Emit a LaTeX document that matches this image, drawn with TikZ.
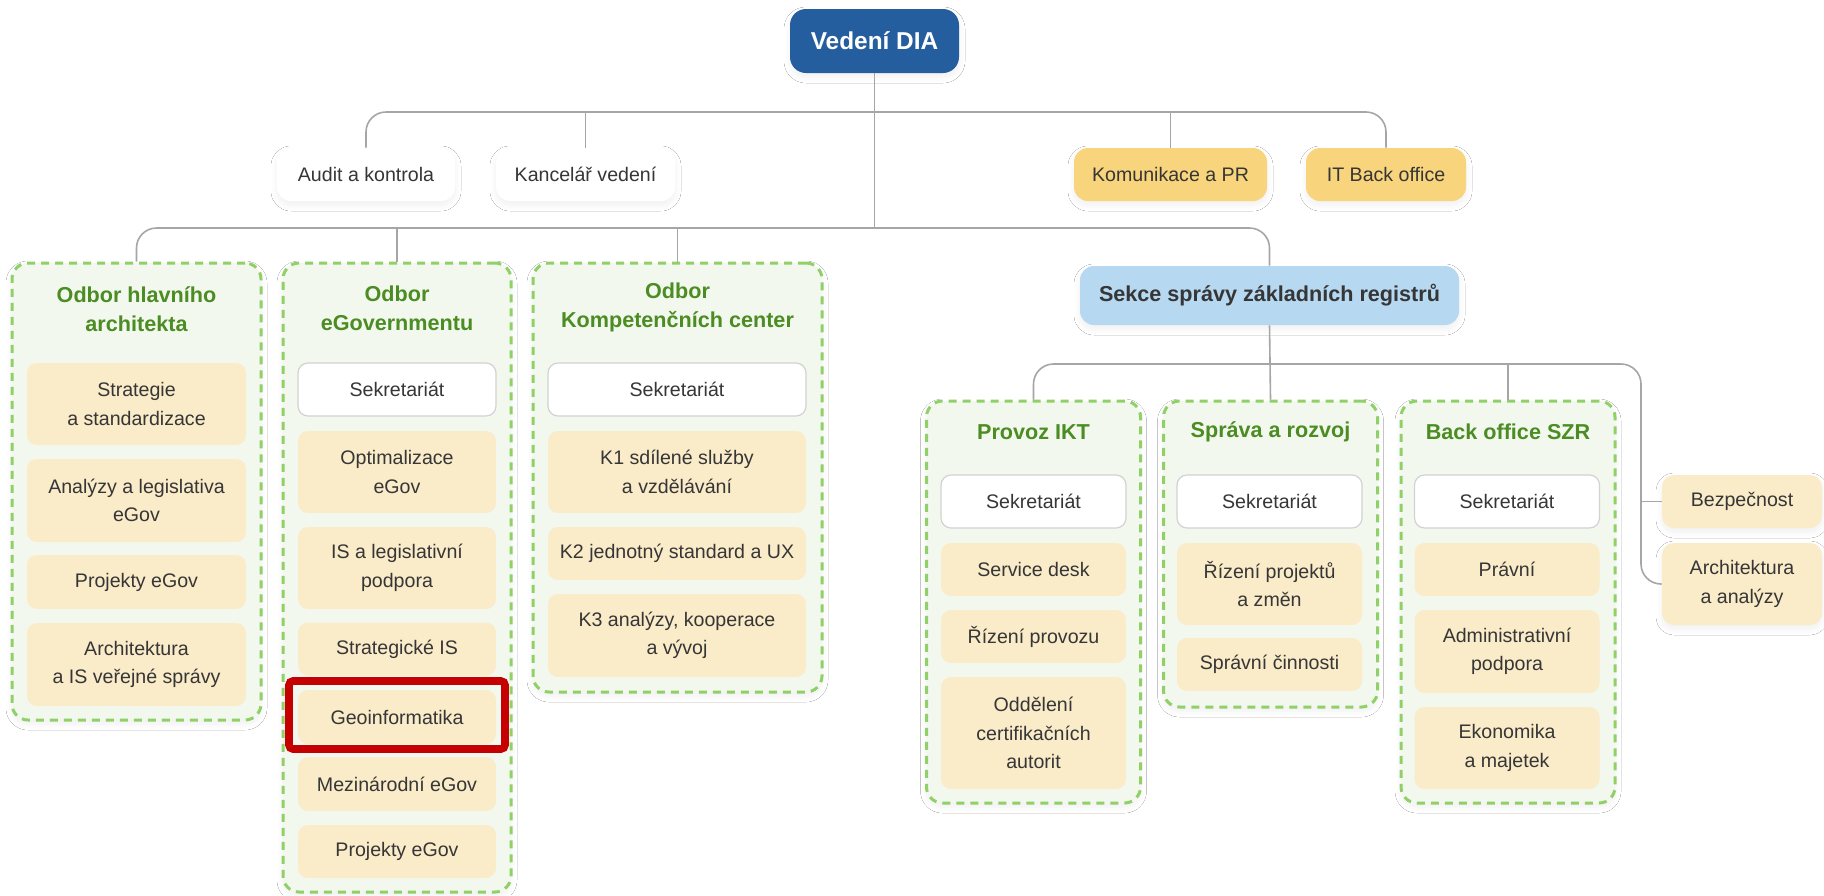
\documentclass[tikz,border=0pt]{standalone}
\usepackage{fontspec}
\setmainfont{Liberation Sans}
\usetikzlibrary{shadows.blur}
\definecolor{dia}{HTML}{245E9F}
\definecolor{yel}{HTML}{F8D47C}
\definecolor{lblue}{HTML}{B6D8F1}
\definecolor{beige}{HTML}{FAEBC9}
\definecolor{gfill}{HTML}{F3F8EE}
\definecolor{gborder}{HTML}{8FD067}
\definecolor{gtitle}{HTML}{4B8C23}
\definecolor{txt}{HTML}{363636}
\definecolor{linec}{HTML}{A6A6A6}
\definecolor{hl}{HTML}{C40000}
\definecolor{sekb}{HTML}{D2D2D2}
\tikzset{
  softshadow/.style={blur shadow={shadow blur steps=10, shadow xshift=0pt, shadow yshift=-2pt, shadow blur radius=3pt, shadow opacity=6}},
  base/.style={inner sep=0pt, align=center, text=txt, font=\fontsize{9.8}{14.3}\selectfont},
  topbox/.style={base, rounded corners=7pt, softshadow},
  grp/.style={draw=gborder, fill=gfill, line width=1.5pt, dash pattern=on 4pt off 3pt, rounded corners=8pt, inner sep=0pt, softshadow},
  gtit/.style={inner sep=0pt, align=center, text=gtitle, font=\fontsize{10.8}{14.5}\selectfont\bfseries},
  item/.style={base, fill=beige, rounded corners=5pt},
  sek/.style={base, fill=white, draw=sekb, line width=0.6pt, rounded corners=5pt},
  conn/.style={draw=linec, line width=0.8pt},
}
\begin{document}
\begin{tikzpicture}[x=0.5pt,y=-0.5pt]
\useasboundingbox (0,0) rectangle (1824,895);
\fill[white] (0,0) rectangle (1824,895);

% top level
\node[topbox, fill=dia, text=white, font=\fontsize{12.2}{14}\selectfont\bfseries, minimum width=84.5pt, minimum height=32pt, rounded corners=8pt] (vedeni) at (874.5,41) {Vedení DIA};
\node[topbox, fill=white, minimum width=89pt, minimum height=26.5pt] (audit) at (366,174.5) {Audit a kontrola};
\node[topbox, fill=white, minimum width=89.5pt, minimum height=26.5pt] (kanc) at (585.5,174.5) {Kancelář vedení};
\node[topbox, fill=yel, minimum width=96.5pt, minimum height=26.5pt] (kom) at (1170.5,174.5) {Komunikace a PR};
\node[topbox, fill=yel, minimum width=80pt, minimum height=26.5pt] (itb) at (1386,174.5) {IT Back office};

% groups
\node[grp, minimum width=124.5pt, minimum height=228.5pt] (g1) at (136.5,491.5) {};
\node[grp, minimum width=114pt, minimum height=314.5pt] (g2) at (397,577.5) {};
\node[grp, minimum width=144.5pt, minimum height=214.5pt] (g3) at (677.5,477.5) {};
\node[topbox, fill=lblue, font=\fontsize{10.8}{14}\selectfont\bfseries, minimum width=189.5pt, minimum height=29.5pt] (sekce) at (1269.5,295.5) {Sekce správy základních registrů};
\node[grp, minimum width=107pt, minimum height=201pt] (provoz) at (1033.5,602) {};
\node[grp, minimum width=107pt, minimum height=153pt] (sprava) at (1270.5,554) {};
\node[grp, minimum width=107pt, minimum height=201pt] (backoff) at (1508,602) {};

% group titles
\node[gtit] (t1) at (136.5,309) {Odbor hlavního\\architekta};
\node[gtit] (t2) at (397,308.5) {Odbor\\eGovernmentu};
\node[gtit] (t3) at (677.5,307.5) {Odbor\\Kompetenčních center};
\node[gtit] (t4) at (1033.5,432) {Provoz IKT};
\node[gtit] (t5) at (1270.5,432) {Správa a rozvoj};
\node[gtit] (t6) at (1508,432) {Back office SZR};

% G1 items
\begin{scope}[every node/.append style={minimum width=109.5pt}]
\node[item, minimum height=41pt] (strat) at (136.5,404) {Strategie\\a standardizace};
\node[item, minimum height=41.5pt] (analyzy) at (136.5,500.5) {Analýzy a legislativa\\eGov};
\node[item, minimum height=27pt] (proj1) at (136.5,582) {Projekty eGov};
\node[item, minimum height=41.5pt] (archis) at (136.5,664.5) {Architektura\\a IS veřejné správy};
\end{scope}

% G2 items
\begin{scope}[every node/.append style={minimum width=99pt}]
\node[sek, minimum height=26.5pt] (sek2) at (397,389.5) {Sekretariát};
\node[item, minimum height=41pt] (optim) at (397,472) {Optimalizace\\eGov};
\node[item, minimum height=41pt] (isleg) at (397,568) {IS a legislativní\\podpora};
\node[item, minimum height=26.5pt] (strategis) at (397,649) {Strategické IS};
\node[item, minimum height=27pt] (geo) at (397,717) {Geoinformatika};
\node[item, minimum height=27pt] (mezin) at (397,784) {Mezinárodní eGov};
\node[item, minimum height=26.5pt] (proj2) at (397,851.5) {Projekty eGov};
\end{scope}
\node[draw=hl, line width=3.8pt, rounded corners=2pt, minimum width=108pt, minimum height=34pt, inner sep=0pt] (highlight) at (397,715) {};

% G3 items
\begin{scope}[every node/.append style={minimum width=129pt}]
\node[sek, minimum height=26.5pt] (sek3) at (677,389.5) {Sekretariát};
\node[item, minimum height=41pt] (k1) at (677,472) {K1 sdílené služby\\a vzdělávání};
\node[item, minimum height=26.5pt] (k2) at (677,553.5) {K2 jednotný standard a UX};
\node[item, minimum height=41.5pt] (k3) at (677,635.5) {K3 analýzy, kooperace\\a vývoj};
\end{scope}

% SZR items
\begin{scope}[every node/.append style={minimum width=92.5pt}]
\node[sek, minimum height=26.5pt] (sek4) at (1033.5,501.5) {Sekretariát};
\node[item, minimum height=26.5pt] (service) at (1033.5,569.5) {Service desk};
\node[item, minimum height=26.5pt] (rizprov) at (1033.5,636.5) {Řízení provozu};
\node[item, minimum height=56pt] (oddel) at (1033.5,733) {Oddělení\\certifikačních\\autorit};
\node[sek, minimum height=26.5pt] (sek5) at (1269.5,501.5) {Sekretariát};
\node[item, minimum height=41pt] (rizproj) at (1269.5,584) {Řízení projektů\\a změn};
\node[item, minimum height=26.5pt] (spravni) at (1269.5,664.5) {Správní činnosti};
\node[sek, minimum height=26.5pt] (sek6) at (1507,501.5) {Sekretariát};
\node[item, minimum height=26.5pt] (pravni) at (1507,569.5) {Právní};
\node[item, minimum height=41.5pt] (admin) at (1507,651.5) {Administrativní\\podpora};
\node[item, minimum height=41pt] (ekon) at (1507,748) {Ekonomika\\a majetek};
\end{scope}
\node[topbox, fill=beige, minimum width=80pt, minimum height=26.5pt, rounded corners=6pt] (bez) at (1742,501.5) {Bezpečnost};
\node[topbox, fill=beige, minimum width=80pt, minimum height=41pt, rounded corners=6pt] (archan) at (1742,584) {Architektura\\a analýzy};

% connectors
\coordinate (bus1) at (874.5,112);
\coordinate (bus2) at (874.5,228);
\coordinate (bus3) at (1270,364);
\coordinate (rt) at (1641,364);
\draw[conn] (vedeni.south) -- (bus2);
\draw[conn, rounded corners=10pt] (audit.north) -- (audit.north |- bus1) -- (itb.north |- bus1) -- (itb.north);
\draw[conn] (kanc.north) -- (kanc.north |- bus1);
\draw[conn] (kom.north) -- (kom.north |- bus1);
\draw[conn, rounded corners=10pt] (g1.north) -- (g1.north |- bus2) -- (sekce.north |- bus2) -- (sekce.north);
\draw[conn] (g2.north) -- (g2.north |- bus2);
\draw[conn] (g3.north) -- (g3.north |- bus2);
\draw[conn] (sekce.south) -- (sprava.north);
\draw[conn, rounded corners=10pt] (provoz.north) -- (provoz.north |- bus3) -- (rt) -- (rt |- archan.west) -- (archan.west);
\draw[conn] (backoff.north) -- (backoff.north |- bus3);
\draw[conn] (bez.west) -- (rt |- bez.west);
\end{tikzpicture}
\end{document}
